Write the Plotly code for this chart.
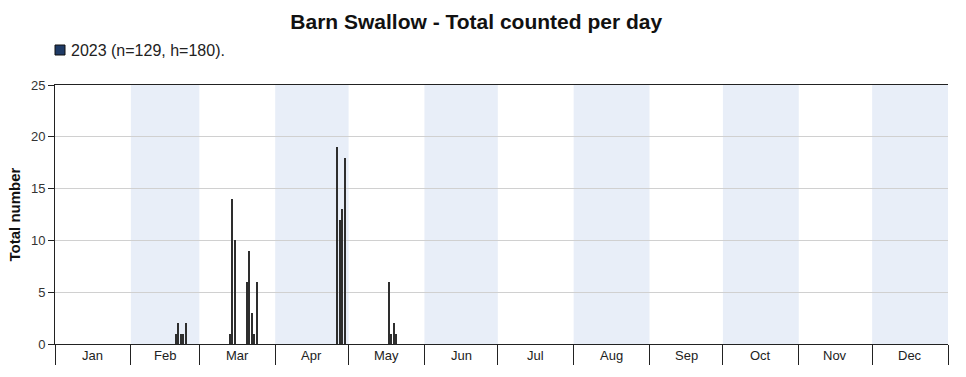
import plotly.graph_objects as go
import pandas as pd

# ---- data ----
dates = ["2023-02-19", "2023-02-20", "2023-02-21", "2023-02-22", "2023-02-23",
         "2023-03-13", "2023-03-14", "2023-03-15",
         "2023-03-20", "2023-03-21", "2023-03-22", "2023-03-23", "2023-03-24",
         "2023-04-26", "2023-04-27", "2023-04-28", "2023-04-29",
         "2023-05-17", "2023-05-18", "2023-05-19", "2023-05-20"]
counts = [1, 2, 1, 1, 2,
          1, 14, 10,
          6, 9, 3, 1, 6,
          19, 12, 13, 18,
          6, 1, 2, 1]
month_labels = ["Jan", "Feb", "Mar", "Apr", "May", "Jun",
                "Jul", "Aug", "Sep", "Oct", "Nov", "Dec"]
legend_label = "2023 (n=129, h=180)."
title_text = "Barn Swallow - Total counted per day"
y_title = "Total number"

month_starts = pd.date_range("2023-01-01", "2024-01-01", freq="MS")
x_centers = [pd.Timestamp(d) + pd.Timedelta(hours=12) for d in dates]
DAY_MS = 86400000

W, H = 966, 377
ML, MR, MT, MB = 55, 18, 85, 33
PW, PH = W - ML - MR, H - MT - MB

def px_x(px):
    return (px - ML) / PW

def px_y(py):
    return (H - MB - py) / PH

fig = go.Figure()
fig.add_trace(go.Bar(
    x=x_centers, y=counts, width=[0.6 * DAY_MS] * len(counts),
    marker=dict(color="#2e2e2e", line=dict(width=0)),
    showlegend=False, hoverinfo="x+y", name=legend_label,
))

shapes = []
for i in range(12):
    if i % 2 == 1:
        shapes.append(dict(type="rect", xref="x", yref="paper",
                           x0=month_starts[i], x1=month_starts[i + 1], y0=0, y1=1,
                           fillcolor="#e8eef8", line=dict(width=0), layer="below"))
# legend swatch
shapes.append(dict(type="rect", xref="paper", yref="paper",
                   x0=px_x(55), x1=px_x(65), y0=px_y(55), y1=px_y(45),
                   fillcolor="#1f3b66", line=dict(color="#111111", width=1)))

annotations = []
for i, lab in enumerate(month_labels):
    mid = month_starts[i] + (month_starts[i + 1] - month_starts[i]) / 2
    annotations.append(dict(x=mid, y=0, xref="x", yref="paper", text=lab,
                            showarrow=False, yanchor="top", yshift=-2,
                            font=dict(size=13, color="#222222")))
annotations.append(dict(x=px_x(69), y=px_y(50), xref="paper", yref="paper",
                        text=legend_label, showarrow=False, xanchor="left",
                        yanchor="middle", font=dict(size=16, color="#222222")))

fig.update_layout(
    width=W, height=H,
    margin=dict(l=ML, r=MR, t=MT, b=MB),
    paper_bgcolor="white", plot_bgcolor="white",
    font=dict(family="Liberation Sans, Arial, sans-serif", size=13, color="#222"),
    title=dict(text="<b>" + title_text + "</b>", x=0.493, xanchor="center",
               y=1 - 22 / H, yanchor="middle", font=dict(size=21, color="#111")),
    showlegend=False,
    shapes=shapes,
    annotations=annotations,
    bargap=0,
)
fig.update_xaxes(
    type="date", range=["2023-01-01", "2024-01-01"], automargin=False,
    tickvals=list(month_starts), ticktext=[""] * len(month_starts),
    ticks="outside", ticklen=20, tickwidth=1, tickcolor="#222",
    showline=True, linecolor="#222", linewidth=1, mirror=True,
    showgrid=False, zeroline=False,
)
fig.update_yaxes(
    range=[0, 25], tickvals=[0, 5, 10, 15, 20, 25], automargin=False,
    ticks="outside", ticklen=6, tickcolor="#222",
    showline=True, linecolor="#222", linewidth=1,
    showgrid=True, gridcolor="#d0d0d0", gridwidth=1, zeroline=False,
    tickfont=dict(size=13, color="#333"),
    title=dict(text="<b>" + y_title + "</b>", font=dict(size=15, color="#111"), standoff=6),
)

fig.write_html("out.html", config={"displayModeBar": False},
               post_script="document.body.style.margin='0px';")
